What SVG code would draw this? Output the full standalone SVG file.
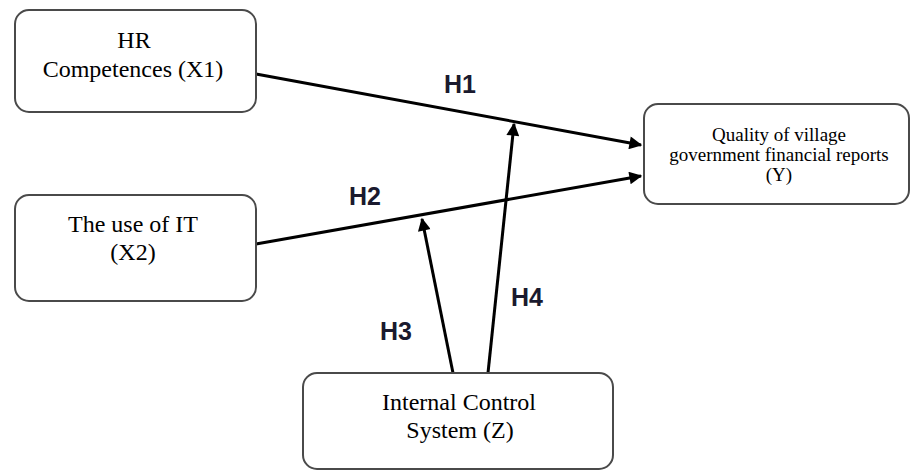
<svg xmlns="http://www.w3.org/2000/svg" width="911" height="471" viewBox="0 0 911 471">
<defs>
<style>
.box{fill:#ffffff;stroke:#4a4a4a;stroke-width:2}
.t{font-family:"Liberation Serif","Times New Roman",serif;font-size:24px;fill:#000;text-anchor:middle}
.ts{font-family:"Liberation Serif","Times New Roman",serif;font-size:19px;fill:#000;text-anchor:middle}
.h{font-family:"Liberation Sans",Arial,sans-serif;font-size:25px;font-weight:bold;fill:#1a1a2e}
.c{stroke:#000;stroke-width:3;fill:none;marker-end:url(#ah)}
</style>
<marker id="ah" viewBox="0 0 10 10" refX="9" refY="5" markerWidth="5.3" markerHeight="4.3" orient="auto" markerUnits="strokeWidth">
<path d="M0,0 L10,5 L0,10 z" fill="#000"/>
</marker>
</defs>
<rect width="911" height="471" fill="#ffffff"/>
<g id="connectors">
<line class="c" x1="256" y1="74" x2="641" y2="145"/>
<line class="c" x1="256" y1="244" x2="641" y2="176"/>
<line class="c" x1="453" y1="373" x2="422" y2="219"/>
<line class="c" x1="488" y1="373" x2="514" y2="124"/>
</g>
<g id="labels">
<text class="h" x="444" y="93">H1</text>
<text class="h" x="349" y="205">H2</text>
<text class="h" x="380" y="340">H3</text>
<text class="h" x="511" y="306">H4</text>
</g>
<g id="x1">
<rect class="box" x="15" y="10" width="241" height="102" rx="14"/>
<text class="t" x="134" y="48">HR</text>
<text class="t" x="133" y="77">Competences (X1)</text>
</g>
<g id="x2">
<rect class="box" x="15" y="195" width="241" height="106" rx="14"/>
<text class="t" x="133" y="232">The use of IT</text>
<text class="t" x="133" y="260">(X2)</text>
</g>
<g id="y">
<rect class="box" x="644" y="104" width="265" height="100" rx="14"/>
<text class="ts" x="779" y="141">Quality of village</text>
<text class="ts" x="779" y="161">government financial reports</text>
<text class="ts" x="779" y="181">(Y)</text>
</g>
<g id="z">
<rect class="box" x="303" y="373" width="310" height="96" rx="14"/>
<text class="t" x="459" y="410">Internal Control</text>
<text class="t" x="460" y="438">System (Z)</text>
</g>
</svg>
